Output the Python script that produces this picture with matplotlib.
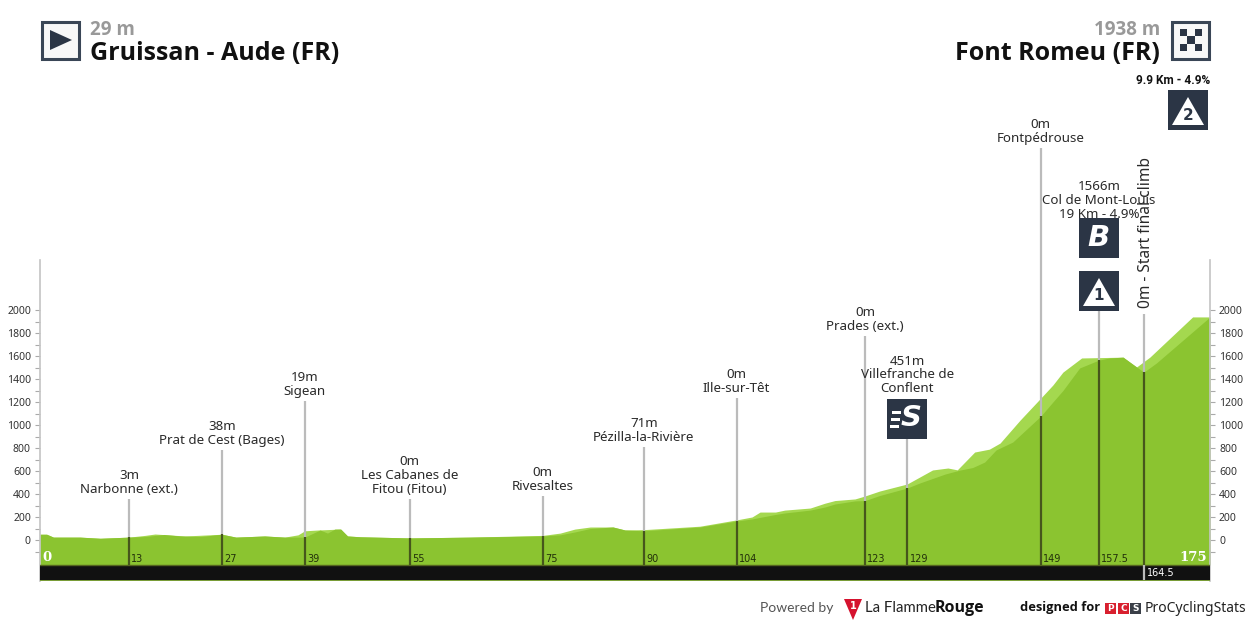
import numpy as np
import matplotlib
matplotlib.use('Agg')
import matplotlib.pyplot as plt
from matplotlib.patches import Rectangle, Polygon

plt.rcParams['font.family'] = ['Noto Sans', 'DejaVu Sans']
bold_font = 'Open Sans'

# back profile (light green): km, metres
back_km = [0, 1, 2, 6, 9, 13.3, 15.7, 17.2, 21.7, 27.2, 29.3, 33.6, 36.6, 38.6, 39.6, 41.6, 44.9, 46, 47.9, 55.3,
           64.3, 75.2, 77.8, 80, 82.3, 85.7, 87.5, 90.3, 98.7, 104.2, 106.5, 107.7, 110, 111.4, 115.2, 117.4, 118.9,
           121.9, 123.4, 125.6, 129.7, 133.5, 135.8, 137.2, 139.8, 142, 143.6, 146.6, 149.7, 151.5, 153, 154, 155.8,
           162, 164, 166, 172.4, 175]
back_ele = [50, 50, 25, 25, 15, 25, 40, 52, 35, 50, 25, 35, 25, 45, 80, 87, 95, 35, 28, 18,
            25, 40, 60, 95, 113, 113, 87, 90, 120, 175, 200, 243, 243, 260, 278, 320, 343,
            357, 383, 426, 487, 609, 626, 610, 765, 790, 843, 1043, 1235, 1348, 1460, 1504, 1583,
            1590, 1504, 1590, 1940, 1940]

# front profile (dark green)
front_km = [0, 1, 2, 6, 9, 13.3, 15.7, 18.5, 21, 24, 27.2, 29.3, 33.6, 36.6, 38.6, 39.6, 41.9, 43, 44.1, 45, 46, 47.9,
            55.3, 64.3, 75.2, 77.8, 80, 82.3, 85.7, 87.5, 90.3, 98.7, 104.2, 106.5, 108, 110, 111.4, 115.2, 117.4,
            118.9, 121.9, 123.4, 125.6, 129.7, 131.6, 135.4, 137.6, 139.5, 141.3, 143, 145.5, 149.7, 151.5, 153,
            155.5, 158.4, 160, 162, 165.1, 167, 175]
front_ele = [50, 50, 25, 25, 15, 25, 30, 48, 35, 30, 50, 25, 35, 25, 25, 25, 87, 60, 95, 95, 35, 28,
             18, 25, 35, 45, 70, 100, 113, 87, 80, 113, 165, 183, 200, 222, 235, 260, 287,
             313, 340, 343, 387, 452, 496, 574, 608, 630, 678, 783, 852, 1078, 1200, 1300,
             1496, 1565, 1583, 1590, 1460, 1540, 1940]

ticks_major = list(range(0, 2001, 200))
ticks_minor = list(range(-100, 2000, 200))

mark_km = [13.3, 27.2, 39.6, 55.3, 75.2, 90.3, 104.2, 123.4, 129.7, 149.7, 158.4, 165.1]
mark_dist = ['13', '27', '39', '55', '75', '90', '104', '123', '129', '149', '157.5']
mark_top = [357, 783, 1209, 357, 383, 809, 1235, 1774, 887, 3409, 2000, 1965]
mark_text = ['3m\nNarbonne (ext.)', '38m\nPrat de Cest (Bages)', '19m\nSigean',
             '0m\nLes Cabanes de\nFitou (Fitou)', '0m\nRivesaltes', '71m\nPézilla-la-Rivière',
             '0m\nIlle-sur-Têt', '0m\nPrades (ext.)']

icon_dark = '#2b3545'
green = '#8bc430'
light = '#a4d84f'
label_col = '#2a2a2a'

fig = plt.figure(figsize=(12.5, 6.25), dpi=100)
ax = fig.add_axes([40/1250, 1-581/625, 1170/1250, 321/625])
ax.set_xlim(0, 175)
ax.set_ylim(-356.5, 2435)
ax.patch.set_alpha(0)

base = -217
ax.fill_between(back_km, back_ele, base, color=light, lw=0, zorder=1)
ax.fill_between(front_km, front_ele, base, color=green, lw=0, zorder=2)
ax.axhspan(-356.5, base, color='#111111', lw=0, zorder=3)
ax.axhline(base, color='#55651f', lw=1, zorder=4)
ax.axhline(-353, color='#8fb83f', lw=1.2, zorder=4)

for s in ['top', 'bottom']:
    ax.spines[s].set_visible(False)
for s in ['left', 'right']:
    ax.spines[s].set_color('#c4c4c4')
    ax.spines[s].set_linewidth(1.2)
ax.set_xticks([])
ax.set_yticks(ticks_major)
ax.set_yticks(ticks_minor, minor=True)
ax.tick_params(axis='y', which='both', left=True, right=True, labelleft=True, labelright=True,
               length=3.5, width=0.8, color='#aaaaaa', labelsize=7.5, labelcolor='#333333', pad=3)

# marks along the route
for i, km in enumerate(mark_km):
    ground = np.interp(km, front_km, front_ele)
    ax.plot([km, km], [ground, mark_top[i]], color='#bbbbbb', lw=1.6, zorder=5, solid_capstyle='butt', clip_on=False)
    ax.plot([km, km], [base, ground], color='#46561c', lw=1.6, zorder=5, solid_capstyle='butt')
    if i == len(mark_km) - 1:
        ax.plot([km, km], [-350, base], color='#bbbbbb', lw=1.6, zorder=5, solid_capstyle='butt')
    if i < len(mark_dist):
        ax.text(km + 0.35, base + 12, mark_dist[i], fontsize=7, color='#22300a', va='bottom', ha='left', zorder=6,
                family='DejaVu Sans')
    if i < len(mark_text):
        ax.text(km, mark_top[i] + 25, mark_text[i], ha='center', va='bottom', fontsize=9.6, color=label_col,
                linespacing=1.08, zorder=6)

ax.text(mark_km[8], 1235 + 25, '451m\nVillefranche de\nConflent', ha='center', va='bottom', fontsize=9.6,
        color=label_col, linespacing=1.08, zorder=6)
ax.text(mark_km[9], 3409 + 25, '0m\nFontpédrouse', ha='center', va='bottom', fontsize=9.6, color=label_col,
        linespacing=1.08, zorder=6, clip_on=False)
ax.text(mark_km[10], 2775, '1566m\nCol de Mont-Louis\n19 Km - 4.9%', ha='center', va='bottom', fontsize=9.6,
        color=label_col, linespacing=1.08, zorder=6, clip_on=False)
ax.text(mark_km[11] + 0.35, 2015, '0m - Start final climb', rotation=90, ha='center', va='bottom', fontsize=11.2,
        color=label_col, zorder=7, clip_on=False)

ax.text(0.35, base + 10, '0', color='white', family='DejaVu Serif', weight='bold', fontsize=9.5, va='bottom', zorder=6)
ax.text(174.5, base + 10, '175', color='white', family='DejaVu Serif', weight='bold', fontsize=9.5, va='bottom',
        ha='right', zorder=6)
ax.text(165.5, -287, '164.5', color='white', fontsize=7, va='center', ha='left', zorder=6, family='DejaVu Sans')

# header, icons and footer in pixel coordinates
ov = fig.add_axes([0, 0, 1, 1])
ov.set_xlim(0, 1250)
ov.set_ylim(625, 0)
ov.axis('off')
ov.patch.set_alpha(0)


def box(x, y, c=icon_dark, size=40):
    ov.add_patch(Rectangle((x, y), size, size, color=c, lw=0))


# start and finish
ov.add_patch(Rectangle((41.5, 21.5), 37, 37, fc='#f8f8f8', ec='#3a4656', lw=2.2))
ov.add_patch(Polygon([(50, 30), (72, 40), (50, 50)], color=icon_dark, lw=0))
ov.add_patch(Rectangle((1171.5, 21.5), 37, 37, fc='#f8f8f8', ec='#3a4656', lw=2.2))
for r in range(3):
    for c in range(3):
        if (r + c) % 2 == 0:
            ov.add_patch(Rectangle((1180 + c*7.3, 29 + r*7.3), 7.3, 7.3, color=icon_dark, lw=0))

ov.text(90, 35, '29 m', fontsize=13.5, weight='bold', color='#999999', va='baseline', family=bold_font)
ov.text(90, 60, 'Gruissan - Aude (FR)', fontsize=18, weight='bold', color='#111111', va='baseline', family=bold_font)
ov.text(1160, 35, '1938 m', fontsize=13.5, weight='bold', color='#999999', va='baseline', ha='right', family=bold_font)
ov.text(1160, 60, 'Font Romeu (FR)', fontsize=18, weight='bold', color='#111111', va='baseline', ha='right',
        family=bold_font)
ov.text(1210, 81, '9.9 Km - 4.9%', fontsize=8.6, weight='bold', color='#111111', va='center', ha='right',
        family='Roboto')

# category 2 climb
box(1168, 90)
ov.add_patch(Polygon([(1188, 97), (1204, 125), (1172, 125)], color='white', lw=0))
ov.text(1188, 116, '2', fontsize=11, weight='bold', color=icon_dark, ha='center', va='center', family='DejaVu Sans')
# bonus
box(1079, 218)
ov.text(1099, 238, 'B', fontsize=21, weight='bold', style='italic', color='white', ha='center', va='center',
        family='DejaVu Sans')
# category 1 climb
box(1079, 271)
ov.add_patch(Polygon([(1099, 278), (1115, 306), (1083, 306)], color='white', lw=0))
ov.text(1099, 296, '1', fontsize=11, weight='bold', color=icon_dark, ha='center', va='center', family='DejaVu Sans')
# sprint
box(887, 399)
ov.text(911, 418, 'S', fontsize=21, weight='bold', style='italic', color='white', ha='center', va='center',
        family='DejaVu Sans')
for yy, x0 in zip([411, 418, 425], [892, 891, 890]):
    ov.add_patch(Rectangle((x0, yy), 9, 2.5, color='white', lw=0))

# footer
ov.text(760, 608, 'Powered by', fontsize=10, color='#555555', va='center', family='Lato')
ov.add_patch(Polygon([(844, 599), (862, 599), (853, 620)], color='#d5122e', lw=0))
ov.text(853, 606, '1', fontsize=7, color='white', weight='bold', ha='center', va='center', family='DejaVu Sans')
ov.text(865, 608, 'La Flamme', fontsize=10.7, color='#222222', va='center', family='Lato')
ov.text(935, 608, 'Rouge', fontsize=11.5, weight='bold', color='#111111', va='center', family=bold_font)
ov.text(1020, 608, 'designed for', fontsize=9.3, weight='bold', color='#111111', va='center', family=bold_font)
for x0, letter, c in zip([1105, 1118, 1130], ['P', 'C', 'S'], ['#d8202f', '#d8202f', '#3a3f48']):
    ov.add_patch(Rectangle((x0, 603), 11, 11, color=c, lw=0))
    ov.text(x0 + 5.5, 608.5, letter, fontsize=6.5, weight='bold', color='white', ha='center', va='center',
            family='DejaVu Sans')
ov.text(1145, 608, 'ProCyclingStats', fontsize=10, color='#222222', va='center')

fig.savefig('out.png', dpi=100)
